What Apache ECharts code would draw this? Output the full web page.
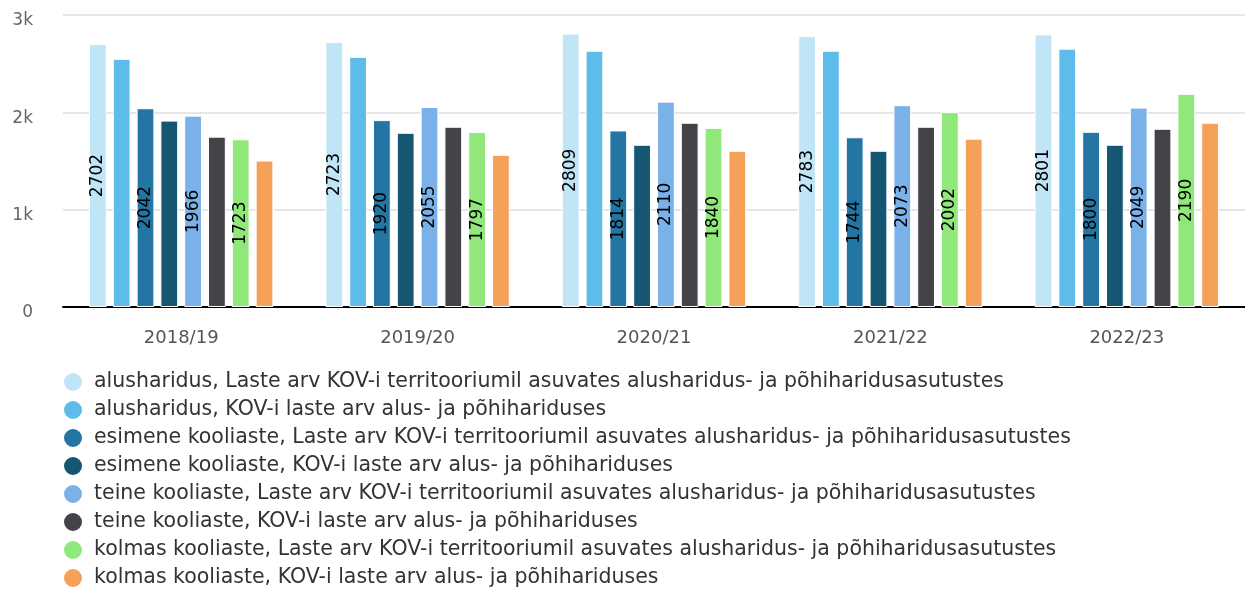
<!DOCTYPE html>
<html>
<head>
<meta charset="utf-8">
<script src="https://cdn.jsdelivr.net/npm/echarts@6/dist/echarts.min.js"></script>
<style>
  html, body { margin: 0; padding: 0; background: #fff; }
  #chart { width: 1245px; height: 595px; }
</style>
</head>
<body>
<div id="chart"></div>
<script>
// aastad
const years = ['2018/19', '2019/20', '2020/21', '2021/22', '2022/23'];

const seriesNames = [
  'alusharidus, Laste arv KOV-i territooriumil asuvates alusharidus- ja põhiharidusasutustes',
  'alusharidus, KOV-i laste arv alus- ja põhihariduses',
  'esimene kooliaste, Laste arv KOV-i territooriumil asuvates alusharidus- ja põhiharidusasutustes',
  'esimene kooliaste, KOV-i laste arv alus- ja põhihariduses',
  'teine kooliaste, Laste arv KOV-i territooriumil asuvates alusharidus- ja põhiharidusasutustes',
  'teine kooliaste, KOV-i laste arv alus- ja põhihariduses',
  'kolmas kooliaste, Laste arv KOV-i territooriumil asuvates alusharidus- ja põhiharidusasutustes',
  'kolmas kooliaste, KOV-i laste arv alus- ja põhihariduses'
];

const alusTerr = [2702, 2723, 2809, 2783, 2801];
const alusKov = [2550, 2570, 2633, 2633, 2654];
const esimeneTerr = [2042, 1920, 1814, 1744, 1800];
const esimeneKov = [1915, 1790, 1667, 1605, 1667];
const teineTerr = [1966, 2055, 2110, 2073, 2049];
const teineKov = [1750, 1852, 1893, 1852, 1831];
const kolmasTerr = [1723, 1797, 1840, 2002, 2190];
const kolmasKov = [1505, 1564, 1605, 1729, 1893];

const seriesData = [alusTerr, alusKov, esimeneTerr, esimeneKov, teineTerr, teineKov, kolmasTerr, kolmasKov];
const colors = ['#bfe5f6', '#5dbce9', '#2376a3', '#155673', '#7ab1e8', '#434348', '#90e87b', '#f5a15a'];
// ainult "territooriumil" seeriatel on sildid
const showLabel = [true, false, true, false, true, false, true, false];

const chart = echarts.init(document.getElementById('chart'));

const option = {
  animation: false,
  color: colors,
  textStyle: { fontFamily: 'DejaVu Sans' },
  grid: {
    left: 63,
    right: 0,
    top: 15,
    bottom: 288
  },
  legend: {
    orient: 'vertical',
    left: 62,
    top: 371,
    padding: 0,
    icon: 'circle',
    itemWidth: 20,
    itemHeight: 20,
    itemGap: 6,
    textStyle: {
      fontSize: 20.5,
      color: '#333333',
      padding: [0, 0, 0, 6]
    },
    data: seriesNames
  },
  xAxis: {
    type: 'category',
    data: years,
    axisLine: { lineStyle: { color: '#000000', width: 2 } },
    axisTick: { show: false },
    axisLabel: { color: '#555555', fontSize: 18, margin: 22 }
  },
  yAxis: {
    type: 'value',
    min: 0,
    max: 3000,
    interval: 1000,
    axisLine: { show: false },
    axisTick: { show: false },
    axisLabel: {
      color: '#666666',
      fontSize: 17,
      margin: 30,
      formatter: function (v) {
        return '{v|' + (v === 0 ? '0' : (v / 1000) + 'k') + '}';
      },
      rich: {
        v: { color: '#666666', fontSize: 17, padding: [12, 0, 0, 0] }
      }
    },
    splitLine: { lineStyle: { color: '#e6e6e6', width: 2 } }
  },
  series: seriesData.map((vals, i) => ({
    name: seriesNames[i],
    type: 'bar',
    data: vals,
    barGap: '34%',
    barCategoryGap: '22%',
    itemStyle: { borderColor: '#ffffff', borderWidth: 1 },
    label: {
      show: showLabel[i],
      position: 'inside',
      rotate: 90,
      color: '#000000',
      fontSize: 17
    }
  }))
};

chart.setOption(option);
</script>
</body>
</html>
